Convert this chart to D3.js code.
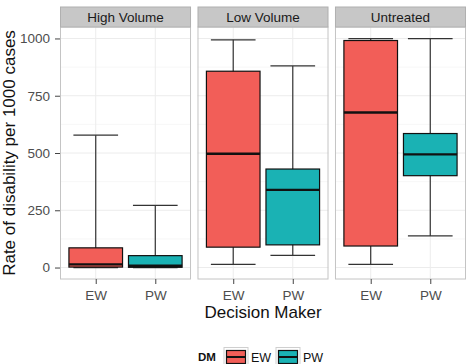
<!DOCTYPE html>
<html>
<head>
<meta charset="utf-8">
<script src="https://cdn.jsdelivr.net/npm/d3@7"></script>
<style>
  body { margin: 0; background: #fff; }
  text { font-family: "Liberation Sans", Arial, sans-serif; }
</style>
</head>
<body>
<svg id="chart" width="469" height="364"></svg>
<script>
// facets and decision makers
const groups = ["High Volume", "Low Volume", "Untreated"];
const makers = ["EW", "PW"];
// box stats per facet, in order EW, PW
const whiskLow = [[0, 0], [14, 53], [14, 138]];
const q1 = [[2, 1], [89, 99], [94, 401]];
const median = [[14, 8], [497, 339], [677, 494]];
const q3 = [[86, 52], [857, 430], [991, 585]];
const whiskHigh = [[578, 271], [994, 880], [999, 999]];
const yTicks = [0, 250, 500, 750, 1000];
const colors = ["#F25E58", "#1AB2B4"];

const svg = d3.select("#chart");
const margin = {top: 27, left: 60, right: 3, bottom: 85};
const W = 469, H = 364;

const fx = d3.scaleBand().domain(groups).range([margin.left, W - margin.right]).paddingInner(0.047);
const y = d3.scaleLinear().domain([-50, 1050]).range([H - margin.bottom, margin.top]);
const x = d3.scalePoint().domain(makers).range([0, fx.bandwidth()]).padding(0.6);
const step = x.step();
const fill = d3.scaleOrdinal().domain(makers).range(colors);

const stripH = 20;
const font = "Liberation Sans, Arial, sans-serif";

groups.forEach((g, gi) => {
  const p = svg.append("g").attr("transform", `translate(${fx(g)},0)`);
  const bw = fx.bandwidth();

  // panel background + grid
  p.append("rect").attr("x", 0).attr("y", margin.top).attr("width", bw)
    .attr("height", y(-50) - y(1050)).attr("fill", "#fff");
  yTicks.slice(0, -1).forEach(t => {
    p.append("line").attr("x1", 0).attr("x2", bw)
      .attr("y1", y(t + 125)).attr("y2", y(t + 125))
      .attr("stroke", "#f5f5f5").attr("stroke-width", 0.8);
  });
  yTicks.forEach(t => {
    p.append("line").attr("x1", 0).attr("x2", bw)
      .attr("y1", y(t)).attr("y2", y(t))
      .attr("stroke", "#ececec").attr("stroke-width", 1);
  });
  makers.forEach(m => {
    p.append("line").attr("x1", x(m)).attr("x2", x(m))
      .attr("y1", y(1050)).attr("y2", y(-50))
      .attr("stroke", "#ececec").attr("stroke-width", 1);
  });

  // boxes
  makers.forEach((m, mi) => {
    const cx = x(m);
    const bhalf = step * 0.45, whalf = step * 0.375;
    const b = p.append("g");
    b.append("line").attr("x1", cx).attr("x2", cx)
      .attr("y1", y(whiskHigh[gi][mi])).attr("y2", y(whiskLow[gi][mi]))
      .attr("stroke", "#333").attr("stroke-width", 1.2);
    [whiskHigh[gi][mi], whiskLow[gi][mi]].forEach(v => {
      b.append("line").attr("x1", cx - whalf).attr("x2", cx + whalf)
        .attr("y1", y(v)).attr("y2", y(v))
        .attr("stroke", "#333").attr("stroke-width", 1.2);
    });
    b.append("rect").attr("x", cx - bhalf).attr("width", bhalf * 2)
      .attr("y", y(q3[gi][mi])).attr("height", y(q1[gi][mi]) - y(q3[gi][mi]))
      .attr("fill", fill(m)).attr("stroke", "#111").attr("stroke-width", 1.2);
    b.append("line").attr("x1", cx - bhalf).attr("x2", cx + bhalf)
      .attr("y1", y(median[gi][mi])).attr("y2", y(median[gi][mi]))
      .attr("stroke", "#111").attr("stroke-width", 2.4);
  });

  // panel border
  p.append("rect").attr("x", 0.5).attr("y", margin.top).attr("width", bw - 1)
    .attr("height", y(-50) - y(1050)).attr("fill", "none")
    .attr("stroke", "#c4c4c4").attr("stroke-width", 1);

  // strip
  p.append("rect").attr("x", 0.5).attr("y", margin.top - stripH).attr("width", bw - 1)
    .attr("height", stripH).attr("fill", "#c7c7c7").attr("stroke", "#b0b0b0");
  p.append("text").attr("x", bw / 2).attr("y", margin.top - stripH / 2)
    .attr("dy", "0.36em").attr("text-anchor", "middle")
    .attr("font-size", 13.5).attr("fill", "#1a1a1a").text(g);

  // x axis
  const xa = p.append("g").attr("transform", `translate(0,${y(-50)})`)
    .call(d3.axisBottom(x).tickSize(5).tickPadding(6));
  xa.select(".domain").remove();
  xa.selectAll("line").attr("stroke", "#444");
  xa.selectAll("text").attr("font-size", 13.5).attr("fill", "#4d4d4d")
    .attr("font-family", font);
});

// y axis
const ya = svg.append("g").attr("transform", `translate(${margin.left},0)`)
  .call(d3.axisLeft(y).tickValues(yTicks).tickFormat(d3.format("d")).tickSize(5).tickPadding(5));
ya.select(".domain").remove();
ya.selectAll("line").attr("stroke", "#444");
ya.selectAll("text").attr("font-size", 13.5).attr("fill", "#4d4d4d")
  .attr("font-family", font);

// axis titles
svg.append("text").attr("x", (margin.left + W - margin.right) / 2).attr("y", 318)
  .attr("text-anchor", "middle").attr("font-size", 17).attr("fill", "#111")
  .text("Decision Maker");
svg.append("text")
  .attr("transform", `translate(15,${(y(-50) + y(1050)) / 2}) rotate(-90)`)
  .attr("text-anchor", "middle").attr("font-size", 17).attr("fill", "#111")
  .text("Rate of disability per 1000 cases");

// legend
const leg = svg.append("g").attr("transform", "translate(198,357)");
leg.append("text").attr("x", 0).attr("dy", "0.36em").attr("font-size", 11.5)
  .attr("font-weight", "bold").attr("fill", "#111").text("DM");
const keyX = [26, 78];
makers.forEach((m, i) => {
  const k = leg.append("g").attr("transform", `translate(${keyX[i]},0)`);
  k.append("rect").attr("x", 0).attr("y", -9.5).attr("width", 24).attr("height", 19)
    .attr("fill", "#fff").attr("stroke", "#cfcfcf");
  k.append("rect").attr("x", 2.5).attr("y", -6.5).attr("width", 19).attr("height", 13)
    .attr("fill", fill(m)).attr("stroke", "#111").attr("stroke-width", 1.2);
  k.append("line").attr("x1", 2.5).attr("x2", 21.5).attr("y1", 0).attr("y2", 0)
    .attr("stroke", "#111").attr("stroke-width", 2);
  k.append("text").attr("x", 27).attr("dy", "0.36em").attr("font-size", 12.5)
    .attr("fill", "#111").text(m);
});
</script>
</body>
</html>
